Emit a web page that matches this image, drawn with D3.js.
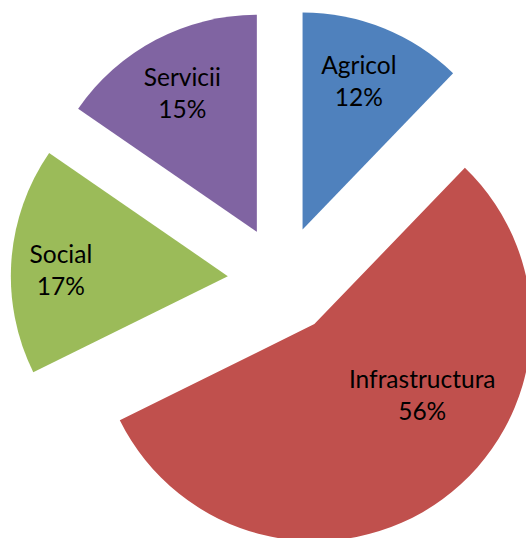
<!DOCTYPE html>
<html>
<head>
<meta charset="utf-8">
<script src="https://cdn.jsdelivr.net/npm/d3@7"></script>
<style>
  body { margin: 0; background: #fff; }
  svg { display: block; }
</style>
</head>
<body>
<div id="chart"></div>
<script>
const sectors = ["Agricol", "Infrastructura", "Social", "Servicii"];
// shares; labels show them rounded
const shares = [12.2, 55.5, 16.9, 15.4];
const colors = ["#4F81BD", "#C0504D", "#9BBB59", "#8064A2"];

const width = 526;
const height = 538;
const cx = 282.2, cy = 280.1;   // pie centre before explode
const radius = 217;
const explode = 54.5;

// label spot per slice: angle (deg, clockwise from top) and distance from slice tip
const labelAngle = [22, 126.4, 269, 330.2];
const labelDist = [150, 134, 167, 150];

const pct = d3.format(".0f");

const pie = d3.pie().sort(null).value(d => d)
const arcs = pie(shares);
const arc = d3.arc().innerRadius(0).outerRadius(radius);

const svg = d3.select("#chart").append("svg")
    .attr("width", width)
    .attr("height", height)
    .style("font-family", "Lato, 'Open Sans', sans-serif")
    .style("font-size", "24.5px");

const slice = svg.selectAll("g.slice")
  .data(arcs)
  .enter().append("g")
    .attr("class", "slice")
    .attr("transform", d => {
      const mid = (d.startAngle + d.endAngle) / 2;
      return `translate(${cx + explode * Math.sin(mid)},${cy - explode * Math.cos(mid)})`;
    });

slice.append("path")
    .attr("d", arc)
    .attr("fill", (d, i) => colors[i]);

const label = slice.append("text")
    .attr("text-anchor", "middle")
    .attr("fill", "#000")
    .attr("transform", (d, i) => {
      const a = labelAngle[i] * Math.PI / 180;
      return `translate(${labelDist[i] * Math.sin(a)},${-labelDist[i] * Math.cos(a)})`;
    });

label.append("tspan")
    .attr("x", 0)
    .attr("y", -16)
    .text((d, i) => sectors[i]);

label.append("tspan")
    .attr("x", 0)
    .attr("y", 16)
    .text(d => pct(d.data) + "%");
</script>
</body>
</html>
